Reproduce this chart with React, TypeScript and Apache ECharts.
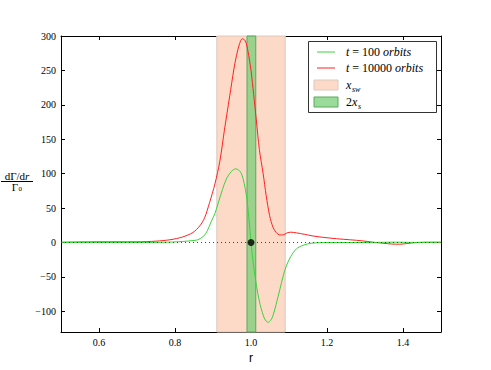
import React, { useEffect, useRef } from 'react';
import * as echarts from 'echarts';

// t = 100 orbits (green)
const greenR = [0.5,0.6,0.7,0.78,0.82,0.85,0.86,0.875,0.885,0.895,0.905,0.913,0.925,0.935,0.948,0.96,0.968,0.975,0.982,0.988,0.994,1.0,1.006,1.012,1.018,1.024,1.03,1.036,1.045,1.052,1.058,1.066,1.076,1.085,1.093,1.105,1.12,1.137,1.16,1.2,1.3,1.38,1.45,1.5];
const greenV = [0,0,0,0.5,1.5,3,4,9,17,30,42,56,77,92,103,107,105,100,86,68,38,0,-30,-54,-74,-90,-102,-111,-116,-113,-106,-90,-68,-48,-34,-20,-9,-4,-1,0,0,0.5,0,0];

// t = 10000 orbits (red)
const redR = [0.5,0.6,0.7,0.75,0.787,0.82,0.847,0.865,0.878,0.891,0.905,0.918,0.93,0.944,0.955,0.962,0.97,0.977,0.985,0.992,1.0,1.007,1.014,1.022,1.032,1.04,1.049,1.058,1.067,1.076,1.084,1.095,1.105,1.12,1.14,1.163,1.19,1.225,1.26,1.295,1.32,1.347,1.37,1.391,1.41,1.435,1.47,1.5];
const redV = [0.5,1,1,2,4,8,14.5,24,36,58,85,118,163,213,252,272,289,296,293,278,250,215,178,135,100,68,39,22,14,11,11,14,15,14,12,9.5,7.5,5.5,4,2.3,0.5,-1,-2.2,-2.5,-1.5,0,0.5,0.5];

const swBand = [0.91, 1.09];
const sBand = [0.9895, 1.0125];
const planet = [1.0, 0];
const zeroLine = [0.5, 1.5];

const xTicks = [0.6, 0.8, 1.0, 1.2, 1.4];
const yTicks = [-100, -50, 0, 50, 100, 150, 200, 250, 300];
const xRange = [0.5, 1.5];
const yRange = [-130, 300];

const SERIF = 'serif';
const SANS = 'sans-serif';
const GREEN = '#3bd23b';
const RED = '#ff2222';
const SW_FILL = '#fdd9c7';
const SW_EDGE = '#dcc9c0';
const S_FILL = 'rgba(120,205,120,0.75)';
const S_EDGE = '#5aa85a';

function pairs(xs: number[], ys: number[]) {
  return xs.map((x, i) => [x, ys[i]]);
}

export default function App() {
  const ref = useRef<HTMLDivElement>(null);
  useEffect(() => {
    if (!ref.current) return;
    const chart = echarts.init(ref.current, undefined, { renderer: 'svg' });
    const fmtY = (v: number) => (v < 0 ? '\u2212' + Math.abs(v) : String(v));
    const axisCommon = {
      type: 'value' as const,
      axisLine: { show: true, onZero: false, lineStyle: { color: '#000', width: 1 } },
      splitLine: { show: false },
    };
    const option: any = {
      animation: false,
      backgroundColor: '#fff',
      textStyle: { fontFamily: SERIF },
      grid: { left: 61, right: 50, top: 36, bottom: 38 },
      xAxis: [
        {
          ...axisCommon,
          min: xRange[0], max: xRange[1], position: 'bottom',
          axisTick: { show: true, inside: true, length: 4, customValues: xTicks, lineStyle: { color: '#000' } },
          axisLabel: { customValues: xTicks, formatter: (v: number) => v.toFixed(1), fontFamily: SERIF, fontSize: 10, color: '#000', margin: 5 },
          name: 'r', nameLocation: 'middle', nameGap: 17,
          nameTextStyle: { fontFamily: SANS, fontSize: 12, color: '#000' },
        },
        {
          ...axisCommon,
          min: xRange[0], max: xRange[1], position: 'top',
          axisTick: { show: true, inside: true, length: 4, customValues: xTicks, lineStyle: { color: '#000' } },
          axisLabel: { show: false, customValues: xTicks },
        },
      ],
      yAxis: [
        {
          ...axisCommon,
          min: yRange[0], max: yRange[1], position: 'left',
          axisTick: { show: true, inside: true, length: 4, customValues: yTicks, lineStyle: { color: '#000' } },
          axisLabel: { customValues: yTicks, formatter: fmtY, fontFamily: SERIF, fontSize: 10, color: '#000', margin: 5 },
        },
        {
          ...axisCommon,
          min: yRange[0], max: yRange[1], position: 'right',
          axisTick: { show: true, inside: true, length: 4, customValues: yTicks, lineStyle: { color: '#000' } },
          axisLabel: { show: false, customValues: yTicks },
        },
      ],
      series: [
        {
          name: 'x_sw', type: 'line', data: [], z: 1,
          markArea: {
            silent: true,
            itemStyle: { color: SW_FILL, borderColor: SW_EDGE, borderWidth: 1 },
            data: [[{ xAxis: swBand[0] }, { xAxis: swBand[1] }]],
          },
        },
        {
          name: 't = 10000 orbits', type: 'line', z: 2, data: pairs(redR, redV),
          smooth: 0.3, symbol: 'none', lineStyle: { color: RED, width: 1 },
        },
        {
          name: '2x_s', type: 'line', data: [], z: 3,
          markArea: {
            silent: true,
            itemStyle: { color: S_FILL, borderColor: S_EDGE, borderWidth: 1 },
            data: [[{ xAxis: sBand[0] }, { xAxis: sBand[1] }]],
          },
        },
        {
          name: 't = 100 orbits', type: 'line', z: 4, data: pairs(greenR, greenV),
          smooth: 0.3, symbol: 'none', lineStyle: { color: GREEN, width: 1 },
        },
        {
          name: 'zero', type: 'line', z: 5, data: [[zeroLine[0], 0], [zeroLine[1], 0]],
          symbol: 'none', lineStyle: { color: '#444', width: 1, type: [1, 3] },
        },
        {
          name: 'planet', type: 'scatter', z: 6, data: [planet],
          symbolSize: 7, itemStyle: { color: '#000' },
        },
      ],
      graphic: [
        // legend
        { type: 'rect', shape: { x: 308.5, y: 41.5, width: 128, height: 71 }, style: { fill: '#fff', stroke: '#333', lineWidth: 1 }, z: 100 },
        { type: 'line', shape: { x1: 317, y1: 52, x2: 335, y2: 52 }, style: { stroke: GREEN, lineWidth: 1 }, z: 101 },
        { type: 'line', shape: { x1: 317, y1: 68, x2: 335, y2: 68 }, style: { stroke: RED, lineWidth: 1 }, z: 101 },
        { type: 'rect', shape: { x: 314, y: 80, width: 24, height: 10 }, style: { fill: SW_FILL, stroke: SW_EDGE, lineWidth: 1 }, z: 101 },
        { type: 'rect', shape: { x: 314, y: 97, width: 24, height: 10 }, style: { fill: S_FILL, stroke: S_EDGE, lineWidth: 1 }, z: 101 },
        {
          type: 'text', x: 346, y: 52, z: 101,
          style: {
            text: '{i|t} = 100 {i|orbits}', fontFamily: SERIF, fontSize: 12, fill: '#000', verticalAlign: 'middle',
            rich: { i: { fontFamily: SERIF, fontSize: 12, fontStyle: 'italic' } },
          },
        },
        {
          type: 'text', x: 346, y: 68, z: 101,
          style: {
            text: '{i|t} = 10000 {i|orbits}', fontFamily: SERIF, fontSize: 12, fill: '#000', verticalAlign: 'middle',
            rich: { i: { fontFamily: SERIF, fontSize: 12, fontStyle: 'italic' } },
          },
        },
        { type: 'text', x: 346, y: 85, z: 101, style: { text: 'x', fontFamily: SERIF, fontSize: 12, fontStyle: 'italic', fill: '#000', verticalAlign: 'middle' } },
        { type: 'text', x: 352, y: 89, z: 101, style: { text: 'sw', fontFamily: SERIF, fontSize: 8, fontStyle: 'italic', fill: '#000', verticalAlign: 'middle' } },
        { type: 'text', x: 346, y: 102, z: 101, style: { text: '2', fontFamily: SERIF, fontSize: 12, fill: '#000', verticalAlign: 'middle' } },
        { type: 'text', x: 352, y: 102, z: 101, style: { text: 'x', fontFamily: SERIF, fontSize: 12, fontStyle: 'italic', fill: '#000', verticalAlign: 'middle' } },
        { type: 'text', x: 358, y: 106, z: 101, style: { text: 's', fontFamily: SERIF, fontSize: 8, fontStyle: 'italic', fill: '#000', verticalAlign: 'middle' } },
        // y-axis label as fraction
        {
          type: 'text', x: 17, y: 176, z: 101,
          style: {
            text: 'd\u0393/d{i|r}', fontFamily: SERIF, fontSize: 11, fill: '#000', align: 'center', verticalAlign: 'middle',
            rich: { i: { fontFamily: SERIF, fontSize: 11, fontStyle: 'italic' } },
          },
        },
        { type: 'line', shape: { x1: 1, y1: 181.5, x2: 33, y2: 181.5 }, style: { stroke: '#000', lineWidth: 1 }, z: 101 },
        { type: 'text', x: 15, y: 187, z: 101, style: { text: '\u0393', fontFamily: SERIF, fontSize: 11, fill: '#000', align: 'center', verticalAlign: 'middle' } },
        { type: 'text', x: 18.5, y: 189, z: 101, style: { text: '0', fontFamily: SERIF, fontSize: 7, fill: '#000', align: 'left', verticalAlign: 'middle' } },
      ],
    };
    chart.setOption(option);
    return () => chart.dispose();
  }, []);
  return <div ref={ref} style={{ position: 'absolute', left: 0, top: 0, width: 491, height: 370 }} />;
}
